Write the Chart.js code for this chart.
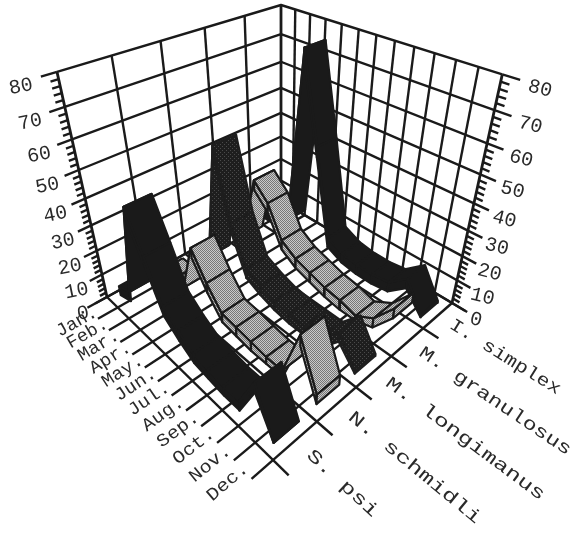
<!DOCTYPE html>
<html>
<head>
<meta charset="utf-8">
<script src="https://cdn.jsdelivr.net/npm/chart.js@4"></script>
<style>
html, body { margin: 0; padding: 0; background: #fff; }
canvas { display: block; }
</style>
</head>
<body>
<canvas id="myChart" width="571" height="536"></canvas>
<script>
const months = ['Jan.', 'Feb.', 'Mar.', 'Apr.', 'May.', 'Jun.', 'Jul.', 'Aug.', 'Sep.', 'Oct.', 'Nov.', 'Dec.'];
const species = ['I. simplex', 'M. granulosus', 'M. longimanus', 'N. schmidli', 'S. psi'];
const heightTicks = [0, 10, 20, 30, 40, 50, 60, 70, 80];

const simplex    = [3, 3, 6, 75, 43, 9, 6, 5, 5, 6, 12, 1];
const granulosus = [2, 3, 31, 25, 13, 9, 7, 5, 4, 2, 6, 15];
const longimanus = [2, 3, 51, 25, 10, 7, 5, 4, 4, 4, 12, 1];
const schmidli   = [2, 2, 3, 24, 14, 6, 5, 4, 3, 3, 23, 5];
const psi        = [5, 7, 44, 30, 15, 10, 6, 5, 4, 4, 18, 0];
const seriesValues = [simplex, granulosus, longimanus, schmidli, psi];

// box corners on the page, everything else goes through project()
const back = [281, 201], left = [107, 297], right = [452, 303], front = [273, 460], backTop = [281, 5];
const leftTop = [57, 72];

function makeProjection() {
    // solve g1, g2 from the front corner of the floor
    const a1 = left[0] - front[0], b1 = right[0] - front[0], c1 = front[0] + back[0] - left[0] - right[0];
    const a2 = left[1] - front[1], b2 = right[1] - front[1], c2 = front[1] + back[1] - left[1] - right[1];
    const det = a1 * b2 - a2 * b1;
    const g1 = (c1 * b2 - c2 * b1) / det, g2 = (a1 * c2 - a2 * c1) / det;
    const g3 = -(1 + g1) * (left[0] - leftTop[0]) / (backTop[0] - leftTop[0]);
    const col = (p, g) => [(1 + g) * p[0] - back[0], (1 + g) * p[1] - back[1]];
    const a = col(left, g1), b = col(right, g2), c = col(backTop, g3);
    // v goes from the right wall (0) to the front left edge (1), u from Jan wall (0) to Dec (1)
    return (u, v, z) => {
        const w = z / 80;
        const d = 1 + g2 * u + g1 * v + g3 * w;
        return {
            x: (back[0] + b[0] * u + a[0] * v + c[0] * w) / d,
            y: (back[1] + b[1] * u + a[1] * v + c[1] * w) / d
        };
    };
}
const project = makeProjection();

function dither(base, dot, size) {
    const c = document.createElement('canvas');
    c.width = c.height = size;
    const p = c.getContext('2d');
    p.fillStyle = base;
    p.fillRect(0, 0, size, size);
    p.fillStyle = dot;
    p.fillRect(0, 0, 1, 1);
    p.fillRect(Math.floor(size / 2), Math.floor(size / 2), 1, 1);
    return p.createPattern(c, 'repeat');
}

const ink = '#1a1a1a';
const seriesFills = [ink, dither('#cacaca', '#777777', 2), dither('#1e1e1e', '#4a4a4a', 4), dither('#cacaca', '#777777', 2), ink];
const seriesEdges = [ink, ink, '#1e1e1e', ink, ink];
const halfWidth = 0.058, thickness = 4;

const layers = [];
function line(points, width) {
    layers.push({
        data: points, showLine: true, fill: false, pointRadius: 0,
        borderColor: ink, borderWidth: width || 2.4, borderJoinStyle: 'round'
    });
}
function poly(points, fillStyle, edge) {
    layers.push({
        data: points.concat([points[0]]), showLine: true, fill: 'shape', pointRadius: 0,
        backgroundColor: fillStyle, borderColor: edge, borderWidth: 2.2, borderJoinStyle: 'round'
    });
}

// walls and floor
heightTicks.forEach(z => {
    line([project(0, 1, z), project(0, 0, z), project(1, 0, z)]);
});
for (let i = 1; i < species.length; i++) line([project(0, i / 5, 0), project(0, i / 5, 80)]);
line([project(0, 0, 0), project(0, 0, 80)], 2.8);
for (let i = 1; i < months.length; i++) line([project(i / 12, 0, 0), project(i / 12, 0, 80)]);
line([project(0, 1, 0), project(0, 1, 80)], 2.8);
line([project(1, 0, 0), project(1, 0, 80)], 2.8);
for (let i = 0; i <= months.length; i++) line([project(i / 12, 0, 0), project(i / 12, 1.09, 0)]);
for (let i = 0; i <= species.length; i++) line([project(0, i / 5, 0), project(1.07, i / 5, 0)]);

// height ticks on the two outer uprights
for (let z = 0; z <= 80; z += 2) {
    const major = z % 10 === 0;
    line([project(0, 1, z), project(0, major ? 1.055 : 1.028, z)]);
    line([project(1, 0, z), project(major ? 1.06 : 1.03, 0, z)]);
}

// ribbons, back to front
seriesValues.forEach((values, s) => {
    const mid = (s + 0.5) / species.length;
    const v1 = mid - halfWidth, v2 = mid + halfWidth;
    for (let m = 0; m < values.length - 1; m++) {
        const u1 = (m + 0.5) / 12, u2 = (m + 1.5) / 12;
        const z1 = values[m], z2 = values[m + 1];
        poly([project(u1, v2, z1), project(u2, v2, z2), project(u2, v2, Math.max(z2 - thickness, 0)), project(u1, v2, Math.max(z1 - thickness, 0))], seriesFills[s], seriesEdges[s]);
        poly([project(u1, v1, z1), project(u2, v1, z2), project(u2, v2, z2), project(u1, v2, z1)], seriesFills[s], seriesEdges[s]);
    }
    const last = values.length - 1, endU = (last + 0.5) / 12, endZ = values[last];
    poly([project(endU, v1, endZ), project(endU, v2, endZ), project(endU, v2, Math.max(endZ - thickness, 0)), project(endU, v1, Math.max(endZ - thickness, 0))], seriesFills[s], seriesEdges[s]);
});

// first dataset is painted last by Chart.js, so count the order down
layers.forEach((d, i) => { d.order = layers.length - i; });

function slant(p, q) {
    return Math.atan2(q.y - p.y, q.x - p.x);
}

const axisLabels = {
    id: 'axisLabels',
    afterDraw(chart) {
        const { ctx, scales } = chart;
        const put = (text, at, angle, font, stretch, align, dx, dy) => {
            ctx.save();
            ctx.translate(scales.x.getPixelForValue(at.x) + (dx || 0), scales.y.getPixelForValue(at.y) + (dy || 0));
            ctx.rotate(angle);
            ctx.scale(stretch, 1);
            ctx.font = font;
            ctx.textAlign = align;
            ctx.textBaseline = 'middle';
            ctx.fillStyle = '#2a2a2a';
            ctx.fillText(text, 0, 0);
            ctx.restore();
        };
        months.forEach((name, i) => {
            const u = (i + 0.5) / 12;
            const angle = slant(project(u, 1.1, 0), project(u, 0.9, 0));
            put(name, project(u, 1.075, 0), angle, '18px "Liberation Mono"', 1.02 + i * 0.01, 'right');
        });
        species.forEach((name, i) => {
            const v = (i + 0.5) / 5;
            const angle = slant(project(1, v, 0), project(1.2, v, 0));
            put(name, project(1.06, v, 0), angle, '18px "Liberation Mono"', Math.min(1.18 + i * 0.1, 1.4), 'left');
        });
        heightTicks.forEach(z => {
            put(String(z), project(0, 1.055, z), -0.2, '20px "Liberation Mono"', 1, 'center', -(12 + z / 10), 10);
            put(String(z), project(1.06, 0, z), 0.25, '20px "Liberation Mono"', 1, 'center', 11 + z / 9, 9);
        });
    }
};

new Chart(document.getElementById('myChart').getContext('2d'), {
    type: 'scatter',
    data: { datasets: layers },
    plugins: [axisLabels],
    options: {
        responsive: false,
        animation: false,
        layout: { padding: 0 },
        plugins: { legend: { display: false }, tooltip: { enabled: false } },
        scales: {
            x: { type: 'linear', min: 0, max: 571, display: false },
            y: { type: 'linear', min: 0, max: 536, reverse: true, display: false }
        }
    }
});
</script>
</body>
</html>
